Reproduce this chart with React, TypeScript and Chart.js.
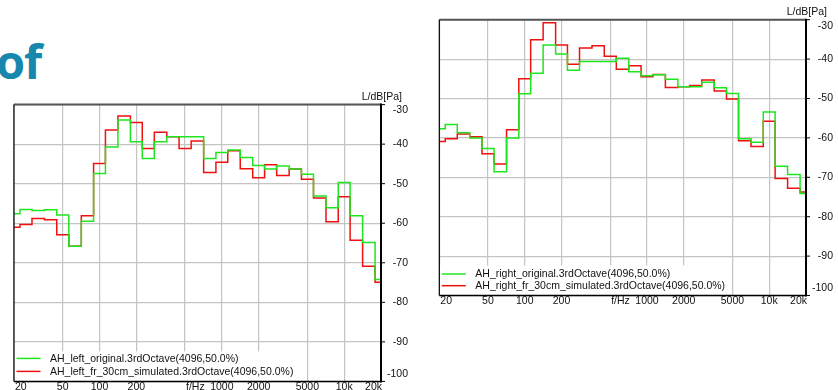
import React, { useEffect, useRef } from "react";
import { Chart, registerables } from "chart.js";

Chart.register(...registerables);

const FONT = '"Liberation Sans", Arial, sans-serif';
const FONT_SIZE = 10.5;
Chart.defaults.font.family = FONT;

// third-octave band centre frequencies (Hz)
const bandFreqs = [20, 25, 31.5, 40, 50, 63, 80, 100, 125, 160, 200, 250, 315, 400, 500, 630, 800, 1000, 1250, 1600, 2000, 2500, 3150, 4000, 5000, 6300, 8000, 10000, 12500, 16000, 20000];

// levels in dB[Pa]
const leftOriginal = [-57.6, -56.5, -56.8, -56.6, -57.9, -65.8, -59.5, -47.4, -40.7, -33.9, -39.4, -43.6, -39.4, -38.1, -38.1, -38.1, -43.6, -42.1, -41.5, -43.4, -45.4, -46.3, -45.5, -46.3, -47.6, -53.1, -56.1, -49.7, -58.1, -64.9, -74.2];
const leftSimulated = [-61.0, -60.3, -58.8, -59.1, -62.9, -65.8, -58.1, -44.9, -36.4, -32.9, -34.5, -41.1, -37.0, -38.1, -41.1, -39.2, -47.2, -44.6, -41.7, -46.2, -48.5, -45.2, -47.9, -46.3, -48.9, -53.6, -59.6, -53.3, -64.3, -70.9, -74.9];
const rightOriginal = [-57.7, -56.6, -58.7, -60.0, -62.7, -68.6, -60.0, -48.8, -43.6, -36.4, -38.7, -42.8, -40.6, -40.6, -40.6, -39.8, -43.2, -44.2, -44.0, -45.1, -47.0, -47.0, -45.9, -47.3, -48.7, -60.2, -61.1, -53.4, -67.2, -69.3, -74.1];
const rightSimulated = [-60.9, -60.2, -59.0, -59.7, -64.0, -66.6, -57.9, -45.0, -35.1, -30.8, -36.4, -41.3, -37.2, -36.6, -39.3, -42.6, -41.7, -44.5, -43.9, -47.2, -47.0, -46.7, -45.3, -48.1, -50.1, -60.7, -62.2, -55.8, -70.3, -72.8, -73.7];

const leftLabels = ["AH_left_original.3rdOctave(4096,50.0%)", "AH_left_fr_30cm_simulated.3rdOctave(4096,50.0%)"];
const rightLabels = ["AH_right_original.3rdOctave(4096,50.0%)", "AH_right_fr_30cm_simulated.3rdOctave(4096,50.0%)"];

const xTickValues = [20, 50, 100, 200, 500, 1000, 2000, 5000, 10000, 20000];
const xTickLabels = ["20", "50", "100", "200", "f/Hz", "1000", "2000", "5000", "10k", "20k"];
const yTickValues = [-30, -40, -50, -60, -70, -80, -90, -100];
const yTickLabels = ["-30", "-40", "-50", "-60", "-70", "-80", "-90", "-100"];
const yAxisTitle = "L/dB[Pa]";

const GREEN = "#1ee61e";
const RED = "#f01010";
const GRID = "#c4c4c4";

const acousticPlugin = {
  id: "acoustic",
  afterDatasetsDraw(chart: any, _a: any, opts: any) {
    const { ctx, chartArea: ca } = chart;
    ctx.save();
    ctx.font = `${FONT_SIZE}px ${FONT}`;
    const ds = chart.data.datasets;
    const maxW = Math.max(...ds.map((d: any) => ctx.measureText(d.label).width));
    const top = ca.bottom - opts.legendHeight;
    ctx.fillStyle = "#fff";
    ctx.fillRect(ca.left + 0.5, top, 36 + maxW + 3, ca.bottom - top);
    ds.forEach((d: any, i: number) => {
      const y = ca.bottom - opts.legendFirst + i * opts.legendGap;
      ctx.strokeStyle = d.borderColor;
      ctx.lineWidth = 1.5;
      ctx.beginPath();
      ctx.moveTo(ca.left + 2.5, y);
      ctx.lineTo(ca.left + 26.5, y);
      ctx.stroke();
      ctx.fillStyle = "#111";
      ctx.textAlign = "left";
      ctx.textBaseline = "middle";
      ctx.fillText(d.label, ca.left + 36, y + 0.5);
    });
    ctx.restore();
  },
  afterDraw(chart: any, _a: any, opts: any) {
    const { ctx, chartArea: ca } = chart;
    const xs = chart.scales.x;
    const ys = chart.scales.y;
    ctx.save();
    // frame
    ctx.strokeStyle = "#555";
    ctx.lineWidth = 2;
    ctx.beginPath();
    ctx.moveTo(ca.left, ca.top);
    ctx.lineTo(ca.right, ca.top);
    ctx.stroke();
    ctx.strokeStyle = "#000";
    ctx.lineWidth = 1.2;
    ctx.beginPath();
    ctx.moveTo(ca.left, ca.top);
    ctx.lineTo(ca.left, ca.bottom);
    ctx.stroke();
    ctx.lineWidth = 1.5;
    ctx.beginPath();
    ctx.moveTo(ca.left, ca.bottom);
    ctx.lineTo(ca.right, ca.bottom);
    ctx.stroke();
    ctx.lineWidth = 2;
    ctx.beginPath();
    ctx.moveTo(ca.right, ca.top - 1);
    ctx.lineTo(ca.right, ca.bottom + 1);
    ctx.stroke();
    // y ticks + labels
    ctx.font = `${FONT_SIZE}px ${FONT}`;
    ctx.fillStyle = "#111";
    ctx.lineWidth = 1;
    yTickValues.forEach((v, i) => {
      const py = ys.getPixelForValue(v);
      ctx.beginPath();
      ctx.moveTo(ca.right, py);
      ctx.lineTo(ca.right + 4, py);
      ctx.stroke();
      const ly = Math.min(Math.max(py, ca.top + 6), ca.bottom - 7.5);
      ctx.textAlign = "right";
      ctx.textBaseline = "middle";
      ctx.fillText(yTickLabels[i], ca.right + 27, ly);
    });
    ctx.textAlign = "right";
    ctx.textBaseline = "middle";
    ctx.fillText(yAxisTitle, ca.right + 21, ca.top - 7.5);
    // x labels
    xTickValues.forEach((v, i) => {
      const px = xs.getPixelForValue(v);
      let align: CanvasTextAlign = "center";
      let x = px;
      if (i === 0) { align = "left"; x = px + 1; }
      else if (i === xTickValues.length - 1) { align = "right"; x = px + 1; }
      else if (xTickLabels[i] === "f/Hz") { align = "left"; x = px + 1; }
      ctx.textAlign = align;
      ctx.textBaseline = "middle";
      ctx.fillText(xTickLabels[i], x, ca.bottom + opts.xLabelOffset);
    });
    ctx.restore();
  },
};

type Props = {
  left: number; top: number; width: number; height: number;
  padLeft: number; padTop: number; padRight: number; xHeight: number;
  original: number[]; simulated: number[]; labels: string[];
  legendFirst: number; legendGap: number;
};

function AcousticChart(p: Props) {
  const ref = useRef<HTMLCanvasElement>(null);
  useEffect(() => {
    const chart = new Chart(ref.current!, {
      type: "line",
      data: {
        datasets: [
          {
            label: p.labels[0],
            data: bandFreqs.map((f, i) => ({ x: f, y: p.original[i] })),
            borderColor: GREEN,
            borderWidth: 1.5,
            pointRadius: 0,
            stepped: "middle",
            fill: false,
          },
          {
            label: p.labels[1],
            data: bandFreqs.map((f, i) => ({ x: f, y: p.simulated[i] })),
            borderColor: RED,
            borderWidth: 1.5,
            pointRadius: 0,
            stepped: "middle",
            fill: false,
          },
        ],
      },
      options: {
        responsive: false,
        animation: false,
        layout: { padding: { left: p.padLeft, top: p.padTop, right: p.padRight, bottom: 0 } },
        plugins: {
          legend: { display: false },
          tooltip: { enabled: false },
          acoustic: { legendHeight: 30, legendFirst: p.legendFirst, legendGap: p.legendGap, xLabelOffset: 6 },
        } as any,
        scales: {
          x: {
            type: "logarithmic",
            min: 20,
            max: 20000,
            afterBuildTicks: (s: any) => { s.ticks = xTickValues.map((v) => ({ value: v })); },
            afterFit: (s: any) => { s.height = p.xHeight; },
            ticks: { display: false },
            grid: { color: GRID, lineWidth: 1.2, drawTicks: false },
            border: { display: false },
          },
          y: {
            position: "right",
            min: -100,
            max: -30,
            ticks: { display: false, stepSize: 10 },
            afterFit: (s: any) => { s.width = 30; },
            grid: { color: GRID, lineWidth: 1.2, drawTicks: false },
            border: { display: false },
          },
        },
      },
      plugins: [acousticPlugin],
    } as any);
    return () => chart.destroy();
  }, []);
  return (
    <canvas
      ref={ref}
      width={p.width}
      height={p.height}
      style={{ position: "absolute", left: p.left, top: p.top, width: p.width, height: p.height, display: "block" }}
    />
  );
}

export default function App() {
  return (
    <div style={{ position: "fixed", left: 0, top: 0, width: 838, height: 390, overflow: "hidden", background: "#fff" }}>
      <div
        style={{
          position: "absolute",
          left: -4,
          top: 38,
          fontFamily: '"Open Sans", "Liberation Sans", Arial, sans-serif',
          fontWeight: 700,
          fontSize: 47,
          lineHeight: "47px",
          color: "#1887ae",
          letterSpacing: -1,
        }}
      >
        of
      </div>
      <AcousticChart
        left={0} top={90} width={420} height={300}
        padLeft={14} padTop={14.6} padRight={9} xHeight={8.6}
        original={leftOriginal} simulated={leftSimulated} labels={leftLabels}
        legendFirst={23} legendGap={13}
      />
      <AcousticChart
        left={420} top={0} width={418} height={310}
        padLeft={19.3} padTop={19.7} padRight={2} xHeight={14.5}
        original={rightOriginal} simulated={rightSimulated} labels={rightLabels}
        legendFirst={21.5} legendGap={11.7}
      />
    </div>
  );
}
